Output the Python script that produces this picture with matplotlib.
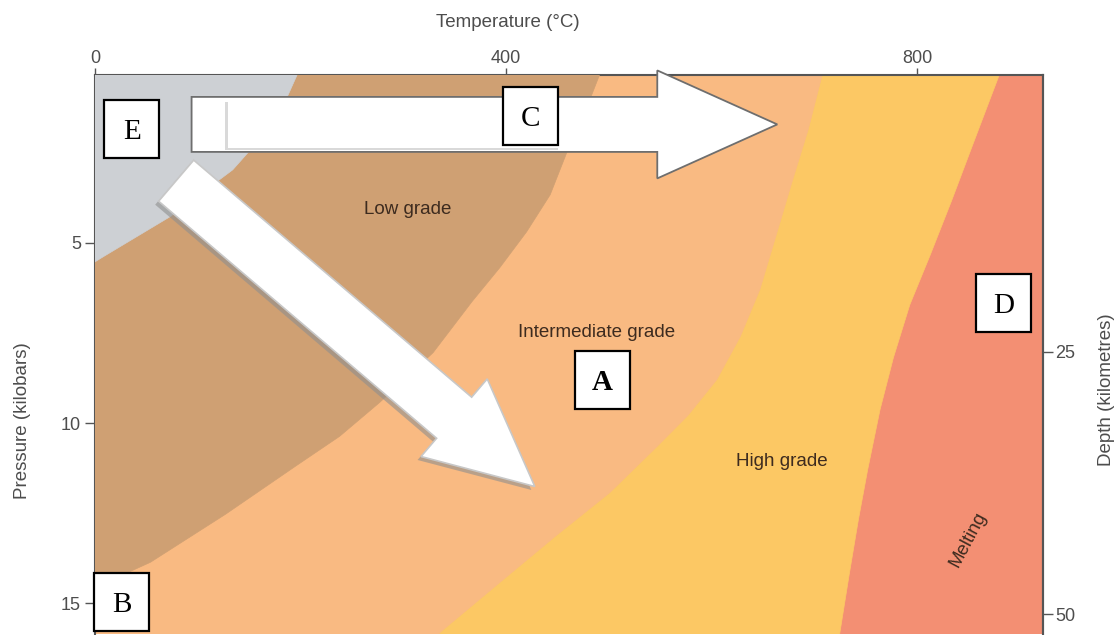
import numpy as np
import matplotlib
matplotlib.use("Agg")
import matplotlib.pyplot as plt
from matplotlib.patches import Polygon, Rectangle
import matplotlib.patheffects as pe

# Phase boundaries: temperature (°C) vs pressure (kbar)
unmeta_T = [199, 177, 134, 73, 8, 0]
unmeta_P = [0.2, 1.6, 2.98, 4.28, 5.39, 5.53]
low_T = [493, 477, 459, 443, 420, 394, 367, 329, 277, 238, 195, 127, 54, 0]
low_P = [0.2, 1.37, 2.51, 3.67, 4.70, 5.69, 6.63, 8.05, 9.43, 10.37, 11.2, 12.53, 13.86, 14.56]
mid_T = [709, 694, 679, 663, 647, 628, 605, 577, 547, 501, 448, 394, 336, 330]
mid_P = [0.2, 1.87, 3.25, 4.78, 6.30, 7.60, 8.80, 9.79, 10.65, 11.93, 13.14, 14.42, 15.8, 16.0]
high_T = [882, 856, 834, 813, 793, 777, 764, 752, 743, 734, 725, 724]
high_P = [0.2, 2.15, 3.81, 5.33, 6.72, 8.19, 9.63, 11.29, 12.67, 14.2, 15.8, 16.0]

region_names = ["Low grade", "Intermediate grade", "High grade", "Melting"]
region_T = [304, 488, 668, 850]
region_P = [4.09, 7.48, 11.06, 13.23]
region_rot = [0, 0, 0, 62]

letters = ["A", "B", "C", "D", "E"]
letter_T = [494, 26, 424, 884, 36]
letter_P = [8.80, 14.95, 1.50, 6.66, 1.86]

# path arrows (tail, tip) in temperature / pressure
arrow_h_T = [94, 664]
arrow_h_P = [1.72, 1.72]
arrow_d_T = [79, 428]
arrow_d_P = [3.28, 11.76]
# inner panel of the horizontal arrow
inner_T = [129, 453]
inner_P = [1.04, 2.37]

COL_GREY = "#cdd0d4"
COL_LOW = "#cfa073"
COL_MID = "#f9ba82"
COL_HIGH = "#fcc864"
COL_MELT = "#f38f73"
TXT = "#3d2b1f"
AX_COL = "#555555"
LBL_COL = "#4d4d4d"

plt.rcParams["font.family"] = ["Liberation Sans", "DejaVu Sans"]

fig = plt.figure(figsize=(11.19, 6.35), dpi=100)
ax = fig.add_axes([95 / 1119, 1 - 634 / 635, 948 / 1119, 559 / 635])
ax.set_xlim(0, 922.6)
ax.set_ylim(15.85, 0.35)
ax.set_facecolor(COL_MELT)


def fill_left(T, P, color, z):
    pts = list(zip(T, P)) + [(-20, P[-1] + 1), (-20, -1), (T[0], -1)]
    ax.add_patch(Polygon(pts, closed=True, fc=color, ec=color, lw=0.5, zorder=z))


fill_left(high_T, high_P, COL_HIGH, 1)
fill_left(mid_T, mid_P, COL_MID, 2)
fill_left(low_T, low_P, COL_LOW, 3)
fill_left(unmeta_T, unmeta_P, COL_GREY, 4)

for name, t, p, r in zip(region_names, region_T, region_P, region_rot):
    ax.text(t, p, name, ha="center", va="center", rotation=r, fontsize=13.5,
            color=TXT, zorder=5)


def to_px(t, p):
    return ax.transData.transform((t, p))


def to_data(pts):
    return ax.transData.inverted().transform(np.asarray(pts))


def block_arrow(T, P, body_w, head_w, head_len):
    p0 = to_px(T[0], P[0])
    p1 = to_px(T[1], P[1])
    d = p1 - p0
    L = np.hypot(*d)
    u = d / L
    n = np.array([-u[1], u[0]])
    base = p0 + u * (L - head_len)
    pts = [p0 + n * body_w / 2, base + n * body_w / 2, base + n * head_w / 2, p1,
           base - n * head_w / 2, base - n * body_w / 2, p0 - n * body_w / 2]
    return to_data(pts)


pts = block_arrow(arrow_h_T, arrow_h_P, 55, 108, 120)
ax.add_patch(Polygon(pts, closed=True, fc="white", ec="#6e6e6e", lw=1.3,
                     zorder=6, clip_on=False))
ax.add_patch(Rectangle((inner_T[0], inner_P[0]), inner_T[1] - inner_T[0],
                       inner_P[1] - inner_P[0], fc="white", ec="none", zorder=6.5,
                       path_effects=[pe.SimplePatchShadow(offset=(-1.5, -1.5),
                                                          shadow_rgbFace="#b5b5b5",
                                                          alpha=0.5),
                                     pe.Normal()]))
pts = block_arrow(arrow_d_T, arrow_d_P, 54, 102, 106)
ax.add_patch(Polygon(pts, closed=True, fc="white", ec="#c8c8c8", lw=1.2, zorder=6,
                     path_effects=[pe.SimplePatchShadow(offset=(-2.5, -2.5),
                                                        shadow_rgbFace="#8f8f8f",
                                                        alpha=0.6),
                                   pe.Normal()]))

# lettered answer boxes
bw, bh = 55, 58
for s, t, p in zip(letters, letter_T, letter_P):
    c = to_px(t, p)
    box = [c + (-bw / 2, -bh / 2), c + (bw / 2, -bh / 2), c + (bw / 2, bh / 2), c + (-bw / 2, bh / 2)]
    ax.add_patch(Polygon(to_data(box), closed=True, fc="white", ec="black", lw=1.6,
                         zorder=8, clip_on=False))
    ax.text(t, p, s, ha="center", va="center_baseline", fontsize=21, zorder=9,
            family="Liberation Serif", fontweight="bold" if s == "A" else "normal",
            color="black")

# axes styling
for side in ["top", "left", "right"]:
    ax.spines[side].set_color(AX_COL)
    ax.spines[side].set_linewidth(1.5)
ax.spines["bottom"].set_visible(False)

ax.xaxis.tick_top()
ax.set_xticks([0, 400, 800])
ax.set_yticks([5, 10, 15])
ax.tick_params(axis="x", direction="out", length=5, width=1, color=AX_COL,
               labelcolor=LBL_COL, labelsize=13, pad=1)
ax.tick_params(axis="y", direction="out", length=7, width=1, color=AX_COL,
               labelcolor=LBL_COL, labelsize=13, pad=3, right=False)
ax.set_xlabel("Temperature (°C)", fontsize=13.5, color=LBL_COL)
ax.xaxis.set_label_position("top")
ax.xaxis.set_label_coords(0.4357, 1.094)
ax.xaxis.label.set_verticalalignment("center")
ax.set_ylabel("Pressure (kilobars)", fontsize=13.5, color=LBL_COL)
ax.yaxis.set_label_coords(-0.077, 0.381)
ax.yaxis.label.set_verticalalignment("center")


def p2d(p):
    return 3.4316 * np.asarray(p) - 2.519


def d2p(d):
    return (np.asarray(d) + 2.519) / 3.4316


sec = ax.secondary_yaxis("right", functions=(p2d, d2p))
sec.set_yticks([25, 50])
sec.tick_params(direction="out", length=7, width=1, color=AX_COL,
                labelcolor=LBL_COL, labelsize=13, pad=2)
sec.spines["right"].set_color(AX_COL)
sec.spines["right"].set_linewidth(1.5)
sec.set_ylabel("Depth (kilometres)", fontsize=13.5, color=LBL_COL)
sec.yaxis.set_label_coords(1.0675, 0.4365, transform=ax.transAxes)
sec.yaxis.label.set_verticalalignment("center")

fig.savefig("out.png", dpi=100)
